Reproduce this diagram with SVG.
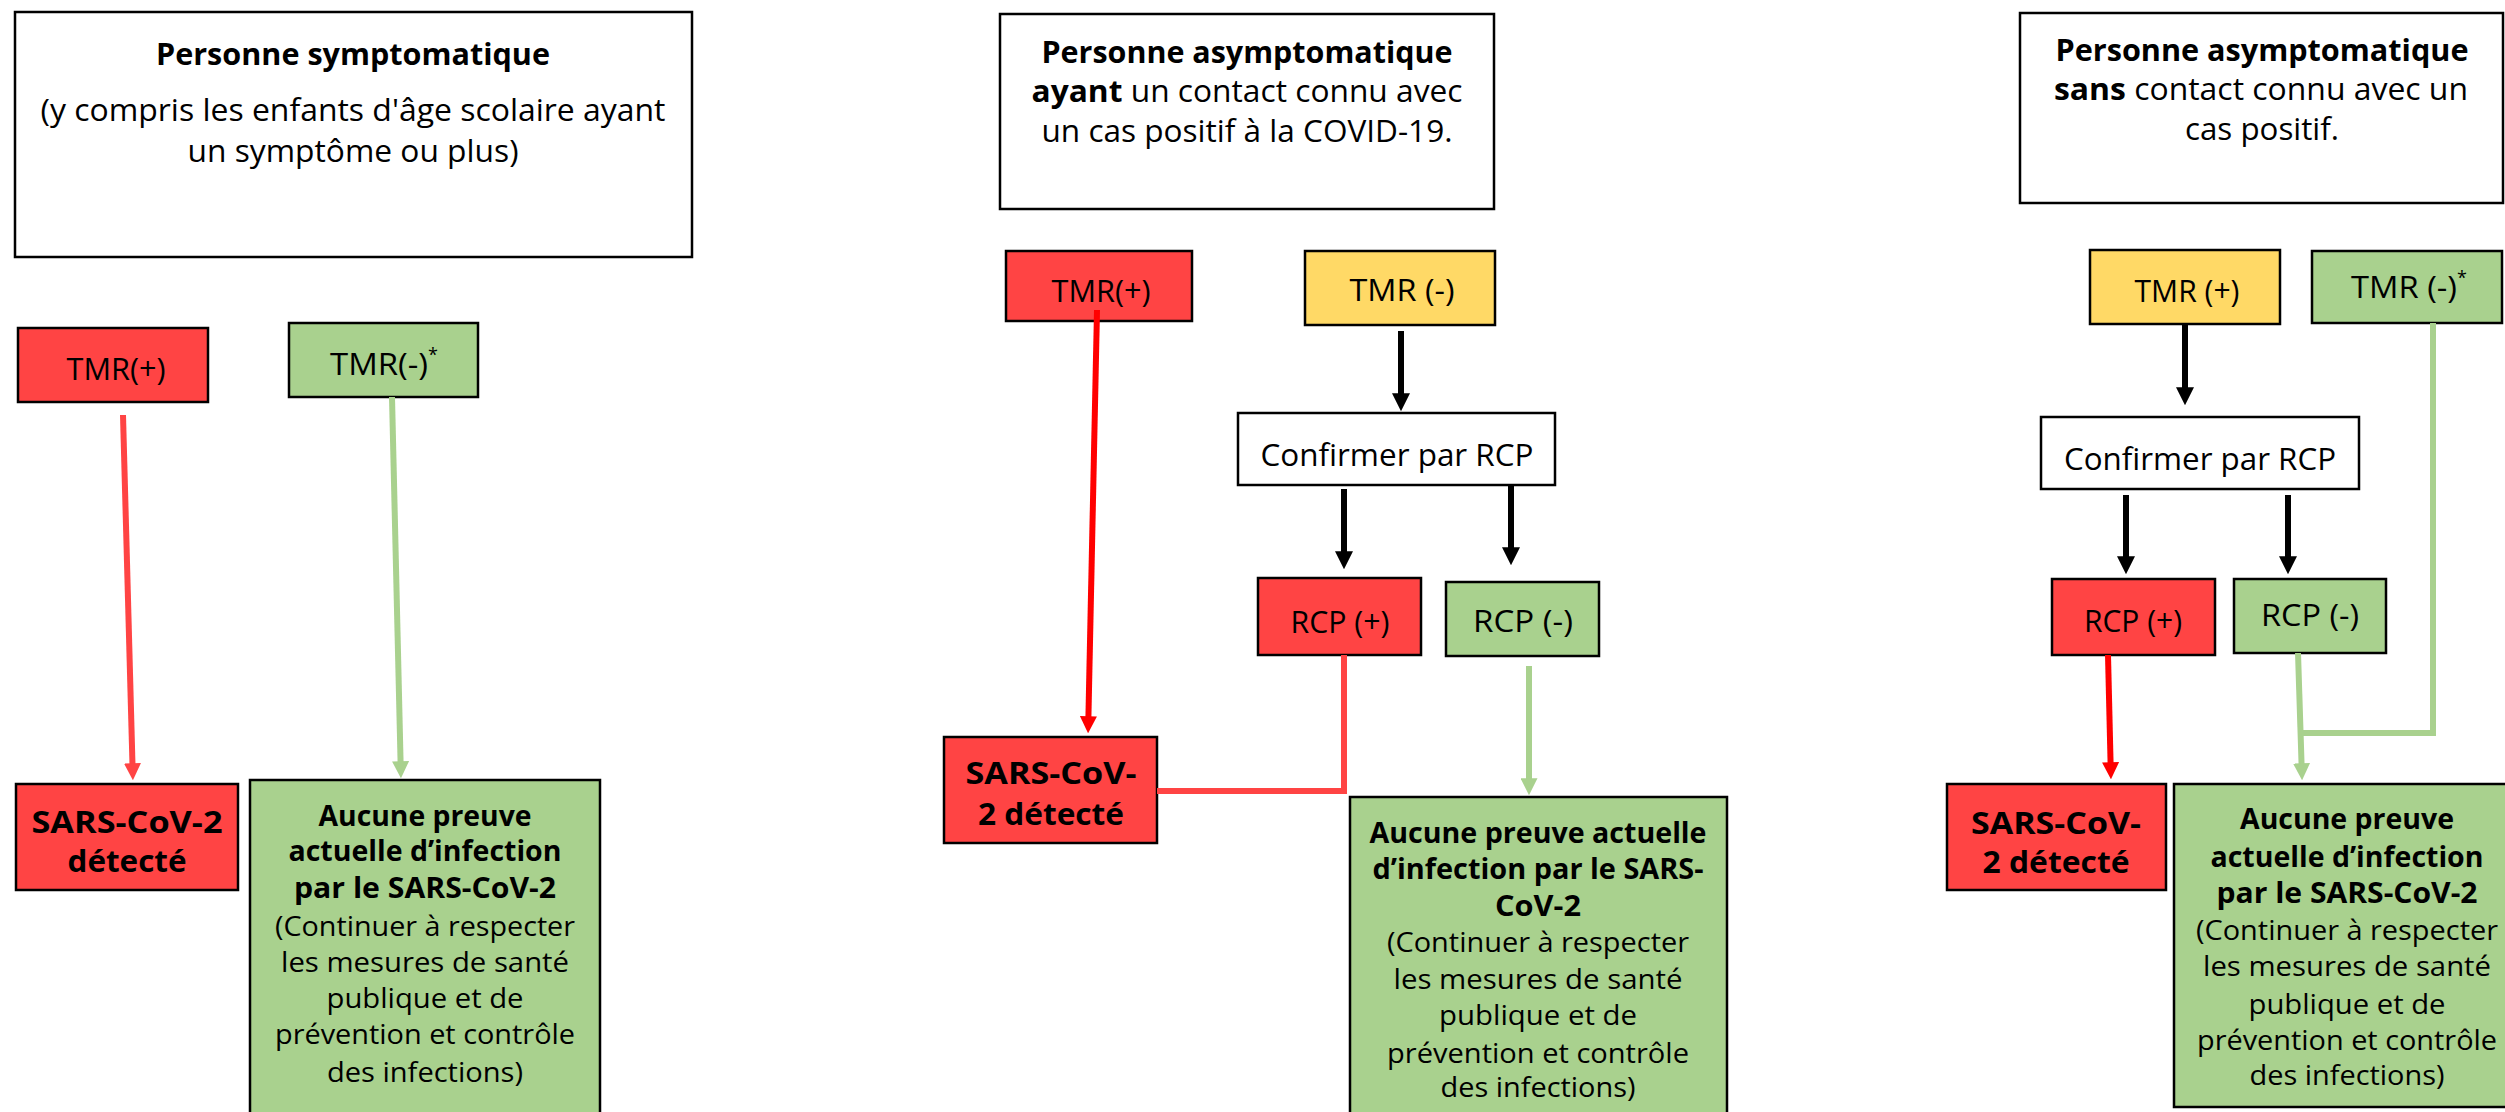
<svg xmlns="http://www.w3.org/2000/svg" width="2505" height="1112" viewBox="0 0 2505 1112">
<style>
.box{stroke:#000;stroke-width:2.5}
.w{fill:#fff}.r{fill:#ff4444}.g{fill:#a9d18e}.y{fill:#ffd966}
text{font-family:"Open Sans",Lato,sans-serif;fill:#000;text-anchor:middle}
.h{font-size:31px}.bd{font-weight:700}.m{font-size:31px}.s{font-size:27px}.sb{font-size:28px;font-weight:700}
.c{fill:none;stroke-width:6}
.ck{stroke:#000}.cr{stroke:#ff0000}.cl{stroke:#ff4444}.cg{stroke:#a9d18e}
</style>
<defs>
<marker id="ak" viewBox="0 0 10 10" refX="1" refY="5" markerWidth="18" markerHeight="18" markerUnits="userSpaceOnUse" orient="auto"><path d="M0,0L10,5L0,10z" fill="#000"/></marker>
<marker id="ar" viewBox="0 0 10 10" refX="1" refY="5" markerWidth="17" markerHeight="17" markerUnits="userSpaceOnUse" orient="auto"><path d="M0,0L10,5L0,10z" fill="#ff0000"/></marker>
<marker id="al" viewBox="0 0 10 10" refX="1" refY="5" markerWidth="17" markerHeight="17" markerUnits="userSpaceOnUse" orient="auto"><path d="M0,0L10,5L0,10z" fill="#ff4444"/></marker>
<marker id="ag" viewBox="0 0 10 10" refX="1" refY="5" markerWidth="17" markerHeight="17" markerUnits="userSpaceOnUse" orient="auto"><path d="M0,0L10,5L0,10z" fill="#a9d18e"/></marker>
</defs>

<g id="header1"><rect class="box w" x="15" y="12" width="677" height="245"/>
<text class="h bd" x="353" y="65" textLength="394" lengthAdjust="spacingAndGlyphs">Personne symptomatique</text>
<text class="h" x="353" y="121" textLength="625" lengthAdjust="spacingAndGlyphs">(y compris les enfants d'âge scolaire ayant</text>
<text class="h" x="353" y="162" textLength="331" lengthAdjust="spacingAndGlyphs">un symptôme ou plus)</text></g>
<g id="tmr_pos1"><rect class="box r" x="18" y="328" width="190" height="74"/><text class="m" x="116" y="380" textLength="99" lengthAdjust="spacingAndGlyphs">TMR(+)</text></g>
<g id="tmr_neg1"><rect class="box g" x="289" y="323" width="189" height="74"/><text class="m" x="384" y="375"><tspan textLength="98" lengthAdjust="spacingAndGlyphs">TMR(-)</tspan><tspan font-size="18" dy="-14">*</tspan></text></g>
<g id="sars1"><rect class="box r" x="16" y="784" width="222" height="106"/>
<text class="h bd" x="127" y="833" textLength="191" lengthAdjust="spacingAndGlyphs">SARS-CoV-2</text><text class="h bd" x="127" y="872" textLength="119" lengthAdjust="spacingAndGlyphs">détecté</text></g>
<g id="aucune1"><rect class="box g" x="250" y="780" width="350" height="360"/>
<text class="sb" x="425" y="826" textLength="213" lengthAdjust="spacingAndGlyphs">Aucune preuve</text>
<text class="sb" x="425" y="861" textLength="273" lengthAdjust="spacingAndGlyphs">actuelle d’infection</text>
<text class="sb" x="425" y="898" textLength="262" lengthAdjust="spacingAndGlyphs">par le SARS-CoV-2</text>
<text class="s" x="425" y="936" textLength="300" lengthAdjust="spacingAndGlyphs">(Continuer à respecter</text>
<text class="s" x="425" y="972" textLength="288" lengthAdjust="spacingAndGlyphs">les mesures de santé</text>
<text class="s" x="425" y="1008" textLength="197" lengthAdjust="spacingAndGlyphs">publique et de</text>
<text class="s" x="425" y="1044" textLength="300" lengthAdjust="spacingAndGlyphs">prévention et contrôle</text>
<text class="s" x="425" y="1082" textLength="196" lengthAdjust="spacingAndGlyphs">des infections)</text></g>

<g id="header2"><rect class="box w" x="1000" y="14" width="494" height="195"/>
<text class="h bd" x="1247" y="63" textLength="411" lengthAdjust="spacingAndGlyphs">Personne asymptomatique</text>
<text class="h" x="1247" y="102" textLength="431" lengthAdjust="spacingAndGlyphs"><tspan font-weight="700">ayant</tspan> un contact connu avec</text>
<text class="h" x="1247" y="142" textLength="411" lengthAdjust="spacingAndGlyphs">un cas positif à la COVID-19.</text></g>
<g id="tmr_pos2"><rect class="box r" x="1006" y="251" width="186" height="70"/><text class="m" x="1101" y="302" textLength="99" lengthAdjust="spacingAndGlyphs">TMR(+)</text></g>
<g id="tmr_neg2"><rect class="box y" x="1305" y="251" width="190" height="74"/><text class="m" x="1402" y="301" textLength="105" lengthAdjust="spacingAndGlyphs">TMR (-)</text></g>
<g id="confirm2"><rect class="box w" x="1238" y="413" width="317" height="72"/><text class="m" x="1397" y="466" textLength="273" lengthAdjust="spacingAndGlyphs">Confirmer par RCP</text></g>
<g id="rcp_pos2"><rect class="box r" x="1258" y="578" width="163" height="77"/><text class="m" x="1340" y="633" textLength="99" lengthAdjust="spacingAndGlyphs">RCP (+)</text></g>
<g id="rcp_neg2"><rect class="box g" x="1446" y="582" width="153" height="74"/><text class="m" x="1523" y="632" textLength="100" lengthAdjust="spacingAndGlyphs">RCP (-)</text></g>
<g id="sars2"><rect class="box r" x="944" y="737" width="213" height="106"/>
<text class="h bd" x="1051" y="784" textLength="171" lengthAdjust="spacingAndGlyphs">SARS-CoV-</text><text class="h bd" x="1051" y="825" textLength="146" lengthAdjust="spacingAndGlyphs">2 détecté</text></g>
<g id="aucune2"><rect class="box g" x="1350" y="797" width="377" height="340"/>
<text class="sb" x="1538" y="843" textLength="337" lengthAdjust="spacingAndGlyphs">Aucune preuve actuelle</text>
<text class="sb" x="1538" y="879" textLength="331" lengthAdjust="spacingAndGlyphs">d’infection par le SARS-</text>
<text class="sb" x="1538" y="916" textLength="86" lengthAdjust="spacingAndGlyphs">CoV-2</text>
<text class="s" x="1538" y="952" textLength="302" lengthAdjust="spacingAndGlyphs">(Continuer à respecter</text>
<text class="s" x="1538" y="989" textLength="289" lengthAdjust="spacingAndGlyphs">les mesures de santé</text>
<text class="s" x="1538" y="1025" textLength="198" lengthAdjust="spacingAndGlyphs">publique et de</text>
<text class="s" x="1538" y="1063" textLength="302" lengthAdjust="spacingAndGlyphs">prévention et contrôle</text>
<text class="s" x="1538" y="1097" textLength="195" lengthAdjust="spacingAndGlyphs">des infections)</text></g>

<g id="header3"><rect class="box w" x="2020" y="13" width="483" height="190"/>
<text class="h bd" x="2262" y="61" textLength="413" lengthAdjust="spacingAndGlyphs">Personne asymptomatique</text>
<text class="h" x="2261" y="100" textLength="414" lengthAdjust="spacingAndGlyphs"><tspan font-weight="700">sans</tspan> contact connu avec un</text>
<text class="h" x="2262" y="140" textLength="154" lengthAdjust="spacingAndGlyphs">cas positif.</text></g>
<g id="tmr_pos3"><rect class="box y" x="2090" y="250" width="190" height="74"/><text class="m" x="2187" y="302" textLength="105" lengthAdjust="spacingAndGlyphs">TMR (+)</text></g>
<g id="tmr_neg3"><rect class="box g" x="2312" y="251" width="190" height="72"/><text class="m" x="2409" y="298"><tspan textLength="106" lengthAdjust="spacingAndGlyphs">TMR (-)</tspan><tspan font-size="18" dy="-14">*</tspan></text></g>
<g id="confirm3"><rect class="box w" x="2041" y="417" width="318" height="72"/><text class="m" x="2200" y="470" textLength="272" lengthAdjust="spacingAndGlyphs">Confirmer par RCP</text></g>
<g id="rcp_pos3"><rect class="box r" x="2052" y="579" width="163" height="76"/><text class="m" x="2133" y="632" textLength="98" lengthAdjust="spacingAndGlyphs">RCP (+)</text></g>
<g id="rcp_neg3"><rect class="box g" x="2234" y="579" width="152" height="74"/><text class="m" x="2310" y="626" textLength="98" lengthAdjust="spacingAndGlyphs">RCP (-)</text></g>
<g id="sars3"><rect class="box r" x="1947" y="784" width="219" height="106"/>
<text class="h bd" x="2056" y="834" textLength="170" lengthAdjust="spacingAndGlyphs">SARS-CoV-</text><text class="h bd" x="2056" y="873" textLength="147" lengthAdjust="spacingAndGlyphs">2 détecté</text></g>
<g id="aucune3"><rect class="box g" x="2174" y="784" width="350" height="323"/>
<text class="sb" x="2347" y="829" textLength="214" lengthAdjust="spacingAndGlyphs">Aucune preuve</text>
<text class="sb" x="2347" y="867" textLength="273" lengthAdjust="spacingAndGlyphs">actuelle d’infection</text>
<text class="sb" x="2347" y="903" textLength="261" lengthAdjust="spacingAndGlyphs">par le SARS-CoV-2</text>
<text class="s" x="2347" y="940" textLength="302" lengthAdjust="spacingAndGlyphs">(Continuer à respecter</text>
<text class="s" x="2347" y="976" textLength="288" lengthAdjust="spacingAndGlyphs">les mesures de santé</text>
<text class="s" x="2347" y="1014" textLength="197" lengthAdjust="spacingAndGlyphs">publique et de</text>
<text class="s" x="2347" y="1050" textLength="300" lengthAdjust="spacingAndGlyphs">prévention et contrôle</text>
<text class="s" x="2347" y="1085" textLength="195" lengthAdjust="spacingAndGlyphs">des infections)</text></g>

<g id="connectors">
<path class="c cl" d="M123,415L132.5,765" marker-end="url(#al)"/>
<path class="c cg" d="M392,397L400.6,763" marker-end="url(#ag)"/>
<path class="c cr" d="M1097,310L1088.4,718" marker-end="url(#ar)"/>
<path class="c ck" d="M1401,331V395" marker-end="url(#ak)"/>
<path class="c ck" d="M1344,489V553" marker-end="url(#ak)"/>
<path class="c ck" d="M1511,485V549" marker-end="url(#ak)"/>
<path class="c cl" d="M1344,655V791H1157"/>
<path class="c cg" d="M1529,666V780" marker-end="url(#ag)"/>
<path class="c ck" d="M2185,325V389" marker-end="url(#ak)"/>
<path class="c ck" d="M2126,495V558" marker-end="url(#ak)"/>
<path class="c ck" d="M2288,495V558" marker-end="url(#ak)"/>
<path class="c cr" d="M2108,655L2110.6,764" marker-end="url(#ar)"/>
<path class="c cg" d="M2298,653L2301.6,765" marker-end="url(#ag)"/>
<path class="c cg" d="M2433,323V733H2300"/>
</g>
</svg>
